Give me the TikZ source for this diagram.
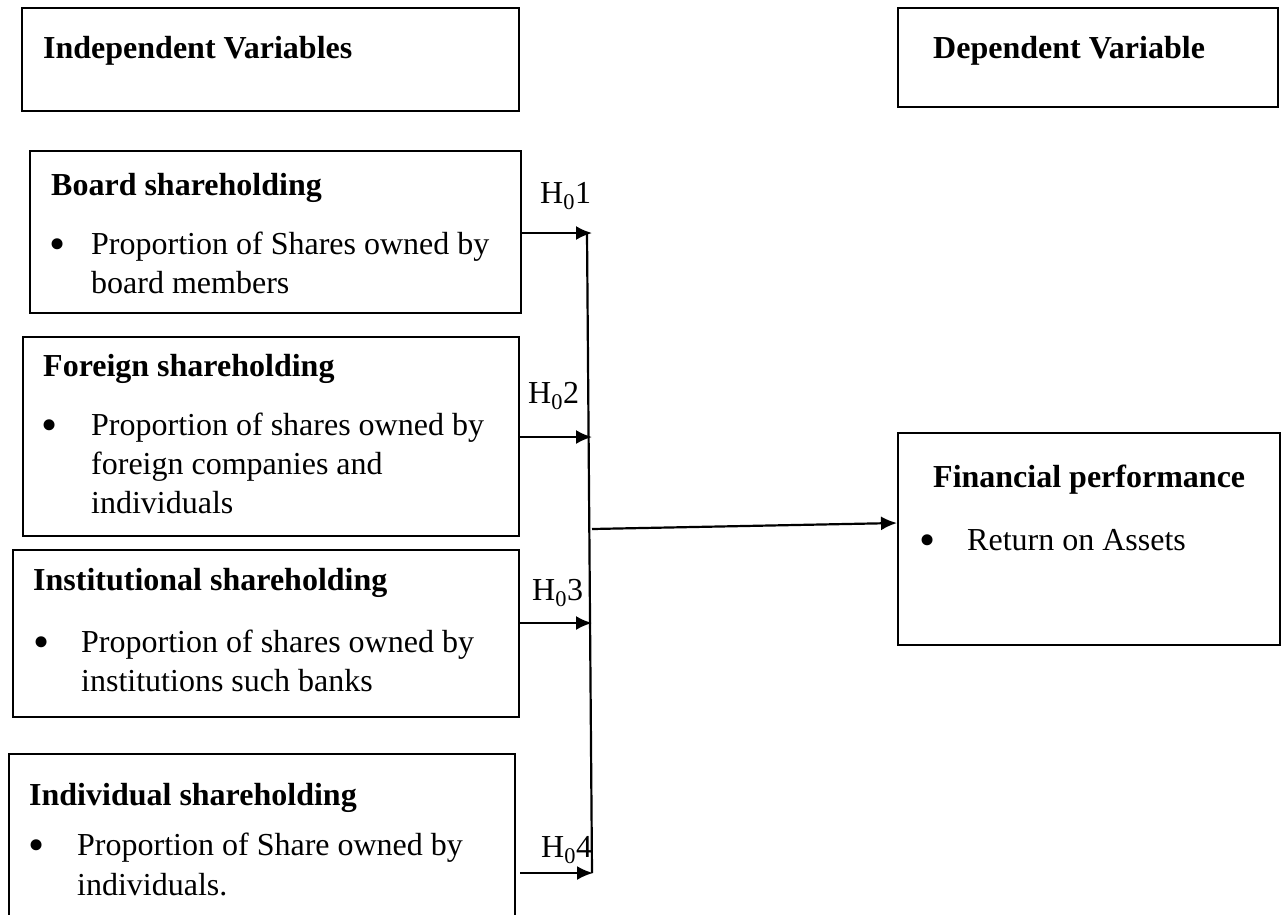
\documentclass[tikz,border=0pt]{standalone}
\usepackage{fontspec}
\setmainfont{Liberation Serif}
\usetikzlibrary{arrows.meta}

\tikzset{
  box/.style={draw, line width=2.2pt, inner sep=0pt, anchor=north west},
  head/.style={anchor=base west, inner sep=0pt, font=\fontsize{32}{39}\selectfont\bfseries},
  item/.style={anchor=base west, inner sep=0pt},
  bul/.style={anchor=base west, inner sep=0pt, yshift=-5pt, font=\fontsize{46}{39}\selectfont},
  hyp/.style={anchor=base west, inner sep=0pt},
  arr/.style={line width=2.2pt, -{Latex[length=16pt,width=14pt]}},
}

\begin{document}
\begin{tikzpicture}[x=1pt, y=-1pt, font=\fontsize{32}{39}\selectfont]
  \useasboundingbox (0,0) rectangle (1284,914);

  % Column headings
  \node[box, minimum width=497pt, minimum height=103pt] (indep) at (21,7) {};
  \node[head] (indeptxt) at (43,58) {Independent Variables};
  \node[box, minimum width=380pt, minimum height=99pt] (dep) at (897,7) {};
  \node[head] (deptxt) at (933,58) {Dependent Variable};

  % Board shareholding
  \node[box, minimum width=491pt, minimum height=162pt] (board) at (29,150) {};
  \node[head] (boardtxt) at (51,195) {Board shareholding};
  \node[bul] (boardbul) at (49,254) {\textbullet};
  \node[item] (boarda) at (91,254) {Proportion of Shares owned by};
  \node[item] (boardb) at (91,293) {board members};

  % Foreign shareholding
  \node[box, minimum width=496pt, minimum height=199pt] (foreign) at (22,336) {};
  \node[head] (foreigntxt) at (43,376) {Foreign shareholding};
  \node[bul] (foreignbul) at (41,435) {\textbullet};
  \node[item] (foreigna) at (91,435) {Proportion of shares owned by};
  \node[item] (foreignb) at (91,474) {foreign companies and};
  \node[item] (foreignc) at (91,513) {individuals};

  % Institutional shareholding
  \node[box, minimum width=506pt, minimum height=167pt] (inst) at (12,549) {};
  \node[head] (insttxt) at (33,590) {Institutional shareholding};
  \node[bul] (instbul) at (33,652) {\textbullet};
  \node[item] (insta) at (81,652) {Proportion of shares owned by};
  \node[item] (instb) at (81,691) {institutions such banks};

  % Individual shareholding (runs off the page)
  \node[box, minimum width=506pt, minimum height=187pt] (indiv) at (8,753) {};
  \node[head] (indivtxt) at (29,805) {Individual shareholding};
  \node[bul] (indivbul) at (28,855) {\textbullet};
  \node[item] (indiva) at (77,855) {Proportion of Share owned by};
  \node[item] (indivb) at (77,895) {individuals.};

  % Financial performance
  \node[box, minimum width=382pt, minimum height=212pt] (fin) at (897,432) {};
  \node[head] (fintxt) at (933,487) {Financial performance};
  \node[bul] (finbul) at (919,550) {\textbullet};
  \node[item] (fina) at (967,550) {Return on Assets};

  % Collecting line
  \coordinate (h1) at (592,233);
  \coordinate (h2) at (592,437);
  \coordinate (h3) at (592,623);
  \coordinate (h4) at (593,873);
  \coordinate (bustop) at (587,233);
  \coordinate (busbot) at (592,873);
  \coordinate (busmid) at (592,529);
  \coordinate (finin) at (897,523);
  \draw[line width=2.2pt] (bustop) -- (busbot);

  % Hypotheses
  \draw[arr] (board.east |- h1) -- (h1);
  \draw[arr] (foreign.east |- h2) -- (h2);
  \draw[arr] (inst.east |- h3) -- (h3);
  \draw[arr] ([xshift=4pt]indiv.east |- h4) -- (h4);
  \draw[arr] (busmid) -- (finin);
  \node[hyp] (hyp1) at (540,203) {H\textsubscript{0}1};
  \node[hyp] (hyp2) at (528,403) {H\textsubscript{0}2};
  \node[hyp] (hyp3) at (532,600) {H\textsubscript{0}3};
  \node[hyp] (hyp4) at (541,857) {H\textsubscript{0}4};
\end{tikzpicture}
\end{document}
